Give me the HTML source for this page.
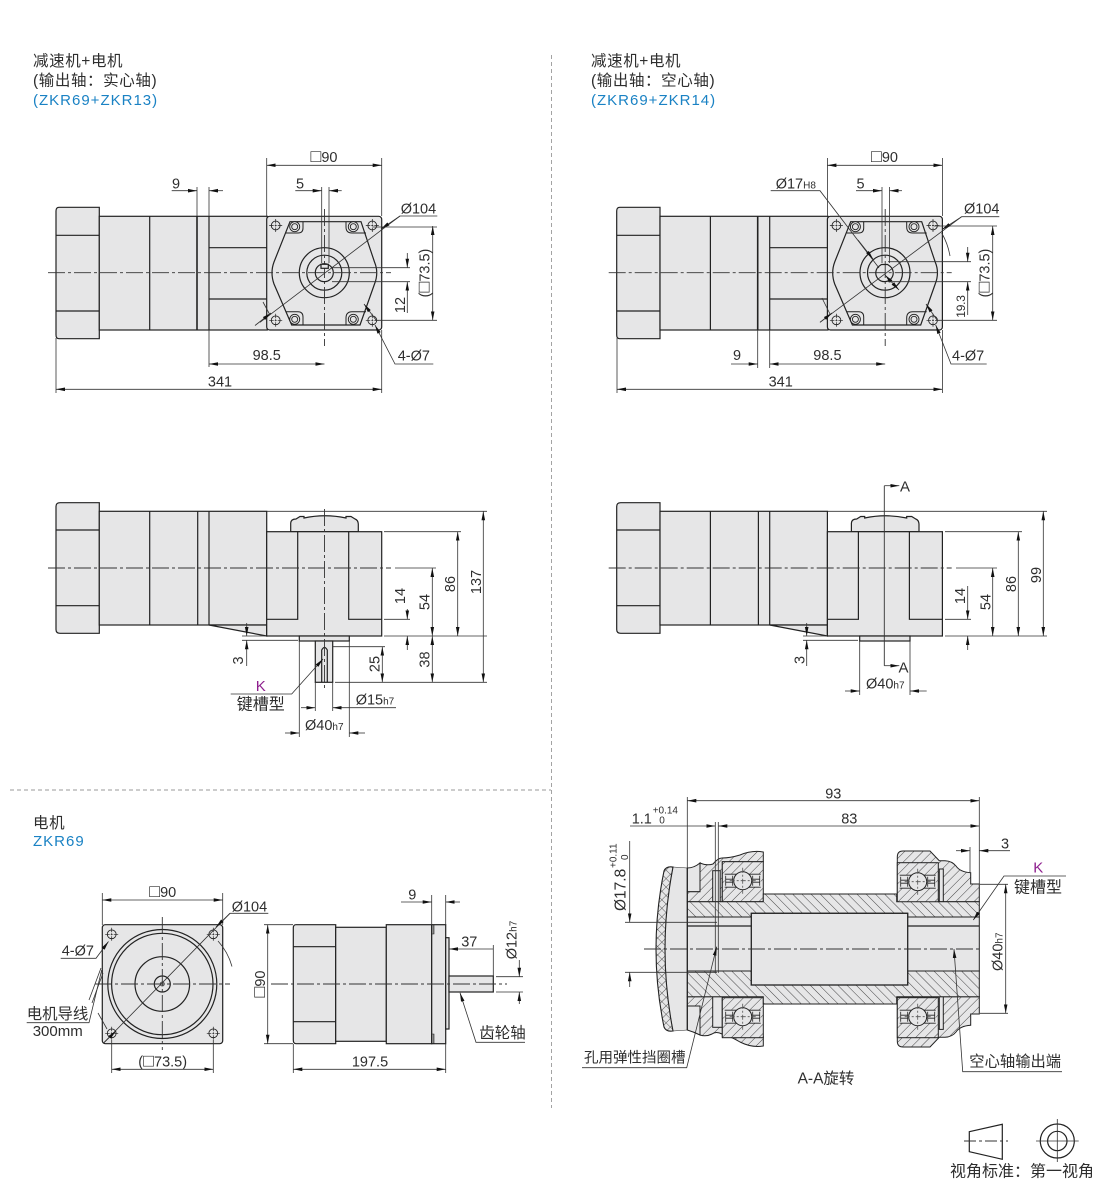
<!DOCTYPE html>
<html><head><meta charset="utf-8">
<style>
html,body{margin:0;padding:0;background:#fff}
svg{display:block}
text{font-family:"Liberation Sans","Noto Sans CJK SC",sans-serif;font-size:14.5px;fill:#2e2e2e}
.o{fill:#e6e6e7;stroke:#222;stroke-width:1.2}
.l{fill:none;stroke:#222;stroke-width:1.2}
.d{fill:none;stroke:#333;stroke-width:.8}
.c{fill:none;stroke:#333;stroke-width:.9;stroke-dasharray:17 3 3 3}
.g{fill:#e6e6e7;stroke:#222;stroke-width:1}
.a{fill:url(#hA);stroke:#222;stroke-width:1}
.b{fill:url(#hB);stroke:#222;stroke-width:1}
.s{font-size:10px}
.q{font-size:18px}
.k{fill:#8e1f8e;font-size:15px}
.h{fill:#1a82c4;font-size:15px;letter-spacing:1px}
.t{font-size:15.5px}
.u{font-size:15.5px;letter-spacing:.6px}
.n{text-anchor:middle}
</style></head><body>
<svg xmlns="http://www.w3.org/2000/svg" width="1100" height="1181" viewBox="0 0 1100 1181">
<defs>
<marker id="m" markerUnits="userSpaceOnUse" markerWidth="10" markerHeight="6" refX="9" refY="3" orient="auto-start-reverse"><path d="M0,1.2 L9,3 L0,4.8z" fill="#111"/></marker>
<pattern id="hA" patternUnits="userSpaceOnUse" width="6.5" height="6.5" patternTransform="rotate(-45)"><rect width="6.5" height="6.5" fill="#e6e6e7"/><line x1="0" y1="0" x2="6.5" y2="0" stroke="#333" stroke-width=".9"/></pattern>
<pattern id="hB" patternUnits="userSpaceOnUse" width="6.5" height="6.5" patternTransform="rotate(45)"><rect width="6.5" height="6.5" fill="#e6e6e7"/><line x1="0" y1="0" x2="6.5" y2="0" stroke="#333" stroke-width=".9"/></pattern>
<pattern id="hX" patternUnits="userSpaceOnUse" width="6" height="6" patternTransform="rotate(45)"><rect width="6" height="6" fill="#e6e6e7"/><path d="M0,0H6M0,0V6" stroke="#333" stroke-width=".8"/></pattern>

<g id="hole"><circle r="4.4" fill="#e6e6e7" stroke="#222" stroke-width=".9"/><path d="M-6.5,0H-2M-1,0H1M2,0H6.5M0,-6.5V-2M0,-1V1M0,2V6.5" stroke="#222" stroke-width=".7"/></g>

<g id="topBody">
<path class="o" d="M99.3,207.3H59Q56,207.3 56,211V335Q56,338.7 59,338.7H99.3Z"/>
<path class="l" d="M56,235.3H99.3M56,311H99.3"/>
<rect class="o" x="99.3" y="216.3" width="168" height="113.7"/>
<path class="l" d="M149.7,216.3V330M209,216.3V330M209,247.7H266.7M209,299H266.7"/>
<path d="M197,216.3V330" stroke="#222" stroke-width="1.6" fill="none"/>
<rect class="o" x="266.7" y="216.3" width="115" height="113.7" rx="3"/>
<path class="l" d="M290,221.7L274,262Q270,272.7 274,284L291.7,325H360L374.5,284Q379,272.7 374.5,262L361,221.7Z"/>
<path class="l" d="M286,233H298Q303,233 303,228V221.7M346,221.7V227Q346,233 352,233H366M286,311.7H298Q303,311.7 303,317V325M346,325V318Q346,311.7 352,311.7H366" style="stroke-width:1"/>
<g fill="#e6e6e7" stroke="#222" stroke-width=".9">
<circle cx="294.7" cy="226.7" r="5"/><circle cx="294.7" cy="226.7" r="3"/>
<circle cx="353.3" cy="226.7" r="5"/><circle cx="353.3" cy="226.7" r="3"/>
<circle cx="294.7" cy="319.3" r="5"/><circle cx="294.7" cy="319.3" r="3"/>
<circle cx="353.3" cy="319.3" r="5"/><circle cx="353.3" cy="319.3" r="3"/>
</g>
<use href="#hole" x="275.7" y="225.5"/><use href="#hole" x="372.3" y="225.5"/>
<use href="#hole" x="275.7" y="320.3"/><use href="#hole" x="372.3" y="320.3"/>
<circle class="l" cx="324.3" cy="272.7" r="25"/>
<circle class="l" cx="324.3" cy="272.7" r="17.5"/>
<path class="c" d="M48,272.7H391"/>
<path class="c" d="M324.5,209V346"/>
</g>

<g id="sideBody">
<path class="o" d="M99.3,502.7H60Q56,502.7 56,506.5V629.5Q56,633.3 60,633.3H99.3Z"/>
<path class="l" d="M56,530H99.3M56,605.7H99.3"/>
<rect class="o" x="99.3" y="511.3" width="167.4" height="113.7"/>
<path class="l" d="M149.7,511.3V625M197.7,511.3V625M209,511.3V625"/>
<path class="o" d="M209,625L266.7,636V625Z"/>
<path class="o" d="M290.7,531.7V523Q291,519 296,519L300,516.5H304L304,518Q325,513.5 346,518V516.5H351L355,519Q358,520 358.3,524V531.7Z"/>
<rect class="o" x="266.7" y="531.7" width="115" height="104.3"/>
<path class="l" d="M266.7,619.3H297.7V531.7M381.7,619.3H348.7V531.7"/>
<path class="c" d="M48,568H391"/>
</g>

<g id="br">
<rect class="a" x="-20.4" y="-19" width="41" height="40"/>
<rect x="-18" y="-6.5" width="36" height="13" fill="#e6e6e7"/>
<path d="M-18,-6.5H18M-18,6.5H18" stroke="#222" stroke-width=".9" fill="none"/>
<path d="M-17,-5V5M-10,-5V5M10,-5V5M17,-5V5M-17,-1.5H-10M-17,1.5H-10M10,-1.5H17M10,1.5H17" stroke="#222" stroke-width=".8" fill="none"/>
<circle r="9" fill="#e6e6e7" stroke="#222" stroke-width="1"/>
<path d="M-13,0H13M0,-13V13" stroke="#555" stroke-width=".8" stroke-dasharray="5 2 2 2" fill="none"/>
</g>
</defs>

<!-- separators -->
<path d="M551.5,55V1108" stroke="#9a9a9a" stroke-width=".9" stroke-dasharray="4 3" fill="none"/>
<path d="M10,790H551" stroke="#9a9a9a" stroke-width=".9" stroke-dasharray="4 3" fill="none"/>

<!-- headers -->
<text class="u" x="33" y="66">减速机+电机</text>
<text class="u" x="33" y="85.5">(输出轴：实心轴)</text>
<text class="h" x="33" y="105">(ZKR69+ZKR13)</text>
<text class="u" x="591" y="66">减速机+电机</text>
<text class="u" x="591" y="85.5">(输出轴：空心轴)</text>
<text class="h" x="591" y="105">(ZKR69+ZKR14)</text>
<text class="u" x="33" y="828">电机</text>
<text class="h" x="33" y="846">ZKR69</text>

<!-- TOP LEFT -->
<use href="#topBody"/>
<circle class="l" cx="324.3" cy="272.7" r="9"/>
<rect class="o" x="321" y="264.3" width="7.3" height="4" />
<g class="d">
<path d="M266.7,158V216M381.7,158V216M56,338V393M381.7,330V393M197,187V216M209,187V216M209,330V367M321.7,187V263M329,187V263"/>
<path d="M266.7,165.3H381.7" marker-start="url(#m)" marker-end="url(#m)"/>
<path d="M171.7,190.7H197" marker-end="url(#m)"/><path d="M223,190.7H209" marker-end="url(#m)"/>
<path d="M295.3,190.7H321.7" marker-end="url(#m)"/><path d="M341.7,190.7H329" marker-end="url(#m)"/>
<path d="M209,364H324.5" marker-start="url(#m)" marker-end="url(#m)"/>
<path d="M56,389.3H381.7" marker-start="url(#m)" marker-end="url(#m)"/>
<path d="M437.3,216H400L260,322.3" />
<path d="M400,216L381,229" marker-end="url(#m)"/><path d="M255,325.5L271,313" marker-end="url(#m)"/>
<path d="M263,302L270,315"/>
<path d="M373,227H437M375,320.3H437"/>
<path d="M432.7,226V320.3" marker-start="url(#m)" marker-end="url(#m)"/>
<path d="M332,267.7H410M332,281.7H410"/>
<path d="M407.3,253V267.7" marker-end="url(#m)"/><path d="M407.3,313V281.7" marker-end="url(#m)"/>
<path d="M433.3,364H395L375,325" marker-end="url(#m)"/>
<path d="M376,320L364,304" marker-end="url(#m)"/>
</g>
<text class="n" x="324" y="162"><tspan class="q">□</tspan>90</text>
<text x="172" y="188.7">9</text>
<text x="296" y="188.7">5</text>
<text x="400.7" y="213.5">Ø104</text>
<text class="n" x="266.7" y="360">98.5</text>
<text class="n" x="220" y="386.7">341</text>
<text x="397.7" y="360.5">4-Ø7</text>
<text class="n" transform="rotate(-90 429.3 273)" x="429.3" y="273">(<tspan class="q">□</tspan>73.5)</text>
<text class="n" transform="rotate(-90 405 305)" x="405" y="305">12</text>

<!-- TOP RIGHT -->
<use href="#topBody" x="560.7"/>
<path class="l" d="M881.5,264.5H887.5V264.5L889,265.5A8.7,8.7 0 1 1 880,265.5Z"/>
<g class="d">
<path d="M827.4,158V216M942.4,158V216M617,338V393M942.4,330V393M757.7,330V368M769.7,330V368M882,187V263M889.5,187V263"/>
<path d="M827.4,165.3H942.4" marker-start="url(#m)" marker-end="url(#m)"/>
<path d="M731,364H757.7" marker-end="url(#m)"/>
<path d="M769.7,364H885.2" marker-start="url(#m)" marker-end="url(#m)"/>
<path d="M617,389.3H942.4" marker-start="url(#m)" marker-end="url(#m)"/>
<path d="M856,190.7H882" marker-end="url(#m)"/><path d="M902,190.7H889.5" marker-end="url(#m)"/>
<path d="M770.7,190.7H820L879,268" /><path d="M858,240L873,259" marker-end="url(#m)"/><path d="M885,275L899,290" marker-end="url(#m)" marker-start="url(#m)"/>
<path d="M999.3,216.7H961.7L820,322.3"/>
<path d="M961.7,216.7L942,229.5" marker-end="url(#m)"/><path d="M820,322.3L832,313" marker-end="url(#m)"/>
<path d="M822,298L830,314M941.7,233Q948,244 950,256"/>
<path d="M934,226H997M936,320.3H997"/>
<path d="M992.7,226V320.3" marker-start="url(#m)" marker-end="url(#m)"/>
<path d="M888,261.7H971M888,281.7H971"/>
<path d="M967.7,247V261.7" marker-end="url(#m)"/><path d="M967.7,315V281.7" marker-end="url(#m)"/>
<path d="M986.7,364H951L935.7,325" marker-end="url(#m)"/>
<path d="M937,320L926,304" marker-end="url(#m)"/>
</g>
<text class="n" x="884.5" y="162"><tspan class="q">□</tspan>90</text>
<text x="733" y="360">9</text>
<text x="856.5" y="188.7">5</text>
<text x="775.7" y="188.7">Ø17<tspan class="s">H8</tspan></text>
<text x="964" y="213.5">Ø104</text>
<text class="n" x="827.4" y="360">98.5</text>
<text class="n" x="780.7" y="386.7">341</text>
<text x="952" y="360.5">4-Ø7</text>
<text class="n" transform="rotate(-90 989.3 273)" x="989.3" y="273">(<tspan class="q">□</tspan>73.5)</text>
<text class="n" transform="rotate(-90 965 306.5)" x="965" y="306.5" style="font-size:12px" letter-spacing="-.2">19.3</text>

<!-- SIDE LEFT -->
<use href="#sideBody"/>
<rect class="o" x="299.3" y="636" width="50" height="5"/>
<rect class="o" x="315.3" y="641" width="17.4" height="41.3"/>
<path class="l" d="M321.7,682.3V650Q324.5,645 327.3,650V682.3"/>
<path class="c" d="M324.5,509V690"/>
<g class="d">
<path d="M267,511.3H487M384,531.7H461M395,568H436M384,636H487M335,682.3H487M384,619.3H410M333,646.7H385"/>
<path d="M483.3,511.3V682.3" marker-start="url(#m)" marker-end="url(#m)"/>
<path d="M457.7,531.7V636" marker-start="url(#m)" marker-end="url(#m)"/>
<path d="M432.3,568V636" marker-start="url(#m)" marker-end="url(#m)"/>
<path d="M432.3,636V682.3" marker-start="url(#m)" marker-end="url(#m)"/>
<path d="M407.3,609V619.3" marker-end="url(#m)"/><path d="M407.3,650V636" marker-end="url(#m)"/>
<path d="M382.3,646.7V682.3" marker-start="url(#m)" marker-end="url(#m)"/>
<path d="M242,636H266M242,640.3H298"/>
<path d="M246.7,623V636" marker-end="url(#m)"/><path d="M246.7,666V640.3" marker-end="url(#m)"/>
<path d="M315.3,682V711M332.7,682V711M299.3,641V737M349.3,641V737"/>
<path d="M301,707.7H315.3" marker-end="url(#m)"/><path d="M396,707.7H332.7" marker-end="url(#m)"/>
<path d="M285,733H299.3" marker-end="url(#m)"/><path d="M365,733H349.3" marker-end="url(#m)"/>
<path d="M230.7,694H291.7L323,659" marker-end="url(#m)"/>
</g>
<text class="n" transform="rotate(-90 481 582)" x="481" y="582">137</text>
<text class="n" transform="rotate(-90 455 584)" x="455" y="584">86</text>
<text class="n" transform="rotate(-90 429.3 602)" x="429.3" y="602">54</text>
<text class="n" transform="rotate(-90 429.3 659.5)" x="429.3" y="659.5">38</text>
<text class="n" transform="rotate(-90 405 596)" x="405" y="596">14</text>
<text class="n" transform="rotate(-90 379.5 664)" x="379.5" y="664">25</text>
<text class="n" transform="rotate(-90 243 660.5)" x="243" y="660.5">3</text>
<text class="n k" x="260.7" y="691">K</text>
<text class="n" x="260.7" y="709.5" style="font-size:16px">键槽型</text>
<text x="355.7" y="704.3">Ø15<tspan class="s">h7</tspan></text>
<text x="305" y="730">Ø40<tspan class="s">h7</tspan></text>

<!-- SIDE RIGHT -->
<use href="#sideBody" x="560.7"/>
<rect class="o" x="859.7" y="636" width="50.3" height="5"/>
<g class="d">
<path d="M828,511.3H1047M945,531.7H1022M956,568H997M945,636H1047M945,619.3H971"/>
<path d="M1043.3,511.3V636" marker-start="url(#m)" marker-end="url(#m)"/>
<path d="M1018.3,531.7V636" marker-start="url(#m)" marker-end="url(#m)"/>
<path d="M992.7,568V636" marker-start="url(#m)" marker-end="url(#m)"/>
<path d="M967.7,586V619.3" marker-end="url(#m)"/><path d="M967.7,650V636" marker-end="url(#m)"/>
<path d="M803,636H827M803,640.3H858"/>
<path d="M806.7,623V636" marker-end="url(#m)"/><path d="M806.7,666V640.3" marker-end="url(#m)"/>
<path d="M859.7,641V695M910,641V695"/>
<path d="M845,691H859.7" marker-end="url(#m)"/><path d="M926.7,691H910" marker-end="url(#m)"/>
<path d="M884.3,485.7V665.7" style="stroke-width:.9"/>
<path d="M884.3,485.7H899.3" marker-end="url(#m)"/><path d="M884.3,665.7H899.3" marker-end="url(#m)"/>
</g>
<text x="900" y="491.7" style="font-size:15px">A</text>
<text x="898.5" y="672.7" style="font-size:15px">A</text>
<text class="n" transform="rotate(-90 1041 575)" x="1041" y="575">99</text>
<text class="n" transform="rotate(-90 1016 584)" x="1016" y="584">86</text>
<text class="n" transform="rotate(-90 990.7 602)" x="990.7" y="602">54</text>
<text class="n" transform="rotate(-90 965 596)" x="965" y="596">14</text>
<text class="n" transform="rotate(-90 804.7 660)" x="804.7" y="660">3</text>
<text x="866" y="688.3">Ø40<tspan class="s">h7</tspan></text>

<!-- MOTOR FRONT -->
<rect class="o" x="102.3" y="924.7" width="120.4" height="119" rx="3"/>
<circle class="l" cx="162.3" cy="984" r="54.5"/>
<circle class="l" cx="162.3" cy="984" r="50.7"/>
<circle class="l" cx="162.3" cy="984" r="27.3"/>
<circle class="l" cx="162.3" cy="984" r="8"/>
<circle class="d" cx="162.3" cy="984" r="2"/>
<use href="#hole" x="111.7" y="934.3"/><use href="#hole" x="213.3" y="934.3"/>
<use href="#hole" x="111.7" y="1033.3"/><use href="#hole" x="213.3" y="1033.3"/>
<path class="c" d="M95,984H230M162.3,917V1050"/>
<g class="d">
<path d="M102.3,893V925M222.7,893V925M111.7,1040V1073M213.3,1040V1073"/>
<path d="M102.3,900H222.7" marker-start="url(#m)" marker-end="url(#m)"/>
<path d="M111.7,1069.3H213.3" marker-start="url(#m)" marker-end="url(#m)"/>
<path d="M268.3,913.3H230L103.3,1043.3"/>
<path d="M230,913.3L216,927" marker-end="url(#m)"/><path d="M103.3,1043.3L116,1031" marker-end="url(#m)"/>
<path d="M218,941Q228,952 232,966.5"/>
<path d="M60.7,958.3H96L108.5,941.5" marker-end="url(#m)"/>
<path d="M26.7,1022.7H89L101.7,970"/>
<path d="M89,1000L101,968M92,1003L103,973"/>
<path d="M98,1013L107,1029"/>
</g>
<text class="n" x="162.7" y="897"><tspan class="q">□</tspan>90</text>
<text x="231.7" y="911.7">Ø104</text>
<text x="61.7" y="955.3">4-Ø7</text>
<text x="26.7" y="1019" style="font-size:15.4px">电机导线</text>
<text x="32.7" y="1036" style="font-size:15px">300mm</text>
<text class="n" x="162.7" y="1066.7">(<tspan class="q">□</tspan>73.5)</text>

<!-- MOTOR SIDE -->
<path class="o" d="M335.7,924.7H296Q293.3,924.7 293.3,928V1040Q293.3,1043.7 296,1043.7H335.7Z"/>
<path class="l" d="M293.3,946.7H335.7M293.3,1021.7H335.7"/>
<rect class="o" x="335.7" y="927.3" width="50.6" height="114"/>
<rect class="o" x="386.3" y="924.7" width="45.4" height="119"/>
<rect class="o" x="431.7" y="924.7" width="14" height="119"/>
<path d="M431.7,925V934H434V925ZM431.7,1034V1043.4H434V1034Z" fill="#888" stroke="#222" stroke-width=".6"/>
<rect class="o" x="445.7" y="937.7" width="3.3" height="91.3"/>
<rect class="o" x="449" y="976" width="44.3" height="16"/>
<path class="c" d="M271,984H507"/>
<g class="d">
<path d="M431.7,895V925M445.7,895V925M493.3,945V976M264,924.7H293M264,1043.7H293M293.3,1044V1073M445.7,1044V1073M496,976.7H523M496,992H523"/>
<path d="M401,902H431.7" marker-end="url(#m)"/><path d="M460,902H445.7" marker-end="url(#m)"/>
<path d="M449,949H493.3" marker-start="url(#m)"/>
<path d="M267.7,924.7V1043.7" marker-start="url(#m)" marker-end="url(#m)"/>
<path d="M293.3,1069.3H445.7" marker-start="url(#m)" marker-end="url(#m)"/>
<path d="M519.3,960V976.7" marker-end="url(#m)"/><path d="M519.3,1004V992" marker-end="url(#m)"/>
<path d="M525,1042.3H476L460,992.7" marker-end="url(#m)"/>
</g>
<text class="n" x="412.3" y="899.3">9</text>
<text class="n" x="469.3" y="946.7">37</text>
<text class="n" x="370" y="1066.7">197.5</text>
<text class="n" transform="rotate(-90 265 984)" x="265" y="984"><tspan class="q">□</tspan>90</text>
<text class="n" transform="rotate(-90 516.5 940)" x="516.5" y="940">Ø12<tspan class="s">h7</tspan></text>
<text x="479.3" y="1038" style="font-size:15.5px">齿轮轴</text>

<!-- SECTION -->
<path class="g" d="M673,867L687.3,868V1030L673,1031Q657,949 673,867Z" style="stroke-width:.5"/>
<path d="M664,871Q666,866 673,867Q657,949 673,1031Q666,1032 664,1027Q648,949 664,871Z" fill="url(#hX)" stroke="#222" stroke-width="1.1"/>
<path class="g" d="M687.3,868Q694,868 700,863V891.7H687.3ZM687.3,1006H700V1035Q694,1032 687.3,1030Z"/>
<path class="a" d="M700,863Q707,866 713,864Q718,858 722,858Q730,858 740,855Q752,850 763.3,852V861.7H722.3V901.7H687.3V891.7H700Z"/>
<path class="a" d="M687.3,996.7H722.3V1036.7H763.3V1046Q752,1048 740,1042Q730,1036 722,1034Q716,1031 712,1034Q706,1037 700,1035V1006H687.3Z"/>
<path class="a" d="M897.3,901.7V857Q897.3,851 903,851H930L939.3,860.7H945Q952,861 956,866Q960,872 970.7,872.7V884H979.3V901.7Z"/>
<path class="a" d="M897.3,996.7V1041Q897.3,1047 903,1047H930L939.3,1037.3H945Q952,1037 956,1032Q960,1026 970.7,1025.3V1014H979.3V996.7Z"/>
<rect class="g" x="712.7" y="870.7" width="7.5" height="31"/>
<rect class="g" x="712.7" y="996.7" width="9.5" height="30.6"/>
<rect class="g" x="939.3" y="869" width="4" height="32.7"/>
<rect class="g" x="939.3" y="996.7" width="4" height="32.7"/>
<use href="#br" x="742.7" y="880.7"/>
<use href="#br" x="742.7" y="1016.7"/>
<use href="#br" x="917.7" y="881.7"/>
<use href="#br" x="917.7" y="1016.7"/>
<rect class="g" x="687.3" y="917" width="292" height="54"/>
<path class="b" d="M687.3,901.7H763.3V894H896.7V901.7H979.3V917H907.7V913.3H751.3V917H687.3Z"/>
<path class="b" d="M687.3,996.7H763.3V1004H896.7V996.7H979.3V971H907.7V985H751.3V971H687.3Z"/>
<path d="M687.3,926H751.3M907.7,926H979.3" stroke="#222" stroke-width="1.2" fill="none"/>
<rect x="751.3" y="913.3" width="156.4" height="71.7" fill="#e6e6e7" stroke="#222" stroke-width="1.3"/>
<path class="l" d="M687.3,868V1030"/>
<path class="c" d="M644,949H979"/>
<g class="d">
<path d="M687.3,797V868M979.3,797V884M970,847V873M715.3,822V973M718.3,822V973"/>
<path d="M687.3,800.7H979.3" marker-start="url(#m)" marker-end="url(#m)"/>
<path d="M630,826H715.3" marker-end="url(#m)"/>
<path d="M718.3,826H979.3" marker-start="url(#m)" marker-end="url(#m)"/>
<path d="M956,850.7H970" marker-end="url(#m)"/><path d="M1010,850.7H979.3" marker-end="url(#m)"/>
<path d="M629.7,841V922.3" marker-end="url(#m)"/><path d="M629.7,987V972.3" marker-end="url(#m)"/>
<path d="M625,922.3H717M625,972.3H717"/>
<path d="M980,884.3H1008M980,1013.3H1008"/>
<path d="M1005.7,884.3V1013.3" marker-start="url(#m)" marker-end="url(#m)"/>
<path d="M1066,876H1004L973.3,920" marker-end="url(#m)"/>
<path d="M582,1067.7H686.7L716.7,946.7" marker-end="url(#m)"/>
<path d="M1062,1071.7H962.7L954,949" marker-end="url(#m)"/>
</g>
<text class="n" x="833.3" y="798.3">93</text>
<text class="n" x="849.3" y="823.3">83</text>
<text x="631.7" y="823.3">1.1</text>
<text class="s" x="652.7" y="813.3">+0.14</text>
<text class="s" x="659.3" y="823.3">0</text>
<text class="n" x="1005" y="848.3">3</text>
<text class="n k" x="1038.3" y="872.7">K</text>
<text x="1014" y="892.3" style="font-size:16px">键槽型</text>
<text transform="rotate(-90 625.7 911)" x="625.7" y="911" style="font-size:15.5px">Ø17.8</text>
<text class="s" transform="rotate(-90 616.7 868)" x="616.7" y="868">+0.11</text>
<text class="s" transform="rotate(-90 628 860)" x="628" y="860">0</text>
<text transform="rotate(-90 1002.7 971)" x="1002.7" y="971">Ø40<tspan class="s">h7</tspan></text>
<text x="584" y="1062.7" style="font-size:14.5px">孔用弹性挡圈槽</text>
<text x="969.3" y="1066.7" style="font-size:15.3px">空心轴输出端</text>
<text class="n" x="826" y="1083.3" style="font-size:15.5px">A-A旋转</text>

<!-- VIEW ANGLE -->
<path class="l" d="M969.3,1131.7L1002.3,1124.3V1159.3L969.3,1151.7Z"/>
<path class="c" style="stroke-dasharray:12 3 3 3" d="M964,1141H1008"/>
<circle class="l" cx="1057.3" cy="1141" r="17"/>
<circle class="l" cx="1057.3" cy="1141" r="9.7"/>
<path class="d" d="M1036,1141H1078.7M1057.3,1119V1162"/>
<text x="950" y="1176.7" style="font-size:16px">视角标准：第一视角</text>
</svg>
</body></html>
